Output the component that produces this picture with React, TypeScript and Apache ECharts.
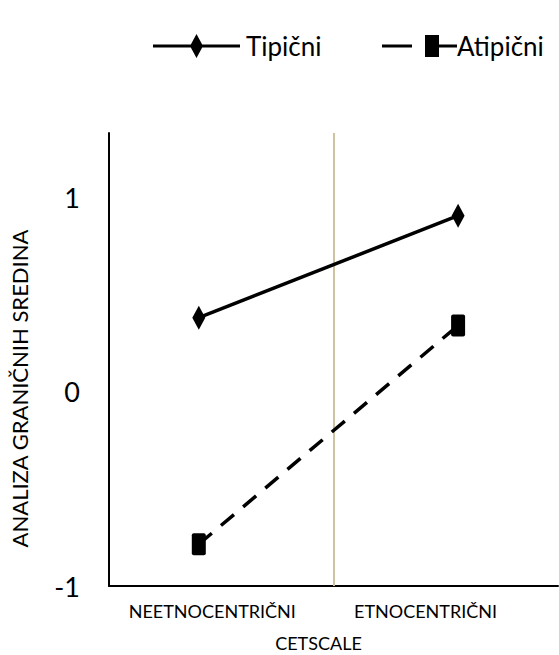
import React, { useEffect, useRef } from "react";
import * as echarts from "echarts";

const categories = ["NEETNOCENTRIČNI", "ETNOCENTRIČNI"];
const pointX = [0.4, 1.555];
const labelX = [0.46, 1.41];
const tipicni = [0.38, 0.905];
const atipicni = [-0.785, 0.34];
const yTicks = [-1, 0, 1];
const seriesNames = ["Tipični", "Atipični"];

const FONT = "Lato";

export default function App() {
  const ref = useRef<HTMLDivElement>(null);
  useEffect(() => {
    if (!ref.current) return;
    const chart = echarts.init(ref.current, null, { renderer: "svg" });
    const pair = (ys: number[]) => ys.map((y, i) => [pointX[i], y]);
    chart.setOption({
      animation: false,
      backgroundColor: "#ffffff",
      textStyle: { fontFamily: FONT, color: "#000" },
      legend: [
        {
          left: 148,
          top: 28,
          itemWidth: 87,
          itemHeight: 24,
          data: [
            {
              name: seriesNames[0],
              icon: "path://M0,10.5H87V13.5H0Z M43.5,0L50,12L43.5,24L37,12Z",
              itemStyle: { color: "#000" },
            },
          ],
          textStyle: { fontFamily: FONT, fontSize: 26, lineHeight: 24, color: "#000", padding: [0, 0, 0, 1] },
        },
        {
          left: 377,
          top: 28,
          itemWidth: 75,
          itemHeight: 24,
          data: [
            {
              name: seriesNames[1],
              icon: "path://M0,10.5H30V13.5H0Z M43,1H57V23H43Z M57,10.5H75V13.5H57Z",
              itemStyle: { color: "#000" },
            },
          ],
          textStyle: { fontFamily: FONT, fontSize: 26, lineHeight: 24, color: "#000", padding: [0, 0, 0, -5] },
        },
      ],
      grid: { left: 109, right: 1, top: 133, bottom: 69, containLabel: false, outerBoundsMode: "none" },
      xAxis: {
        type: "value",
        min: 0,
        max: 2,
        name: "CETSCALE",
        nameLocation: "middle",
        nameGap: 48,
        nameTextStyle: { fontFamily: FONT, fontSize: 18, color: "#000", padding: [0, 30, 0, 0] },
        axisLine: { show: true, onZero: false, lineStyle: { color: "#000", width: 2 } },
        axisTick: { show: false },
        splitLine: { show: false },
        axisLabel: {
          customValues: labelX,
          fontFamily: FONT,
          fontSize: 18,
          color: "#000",
          margin: 16,
          formatter: (v: number) => {
            const i = labelX.findIndex((x) => Math.abs(x - v) < 1e-6);
            return i >= 0 ? categories[i] : "";
          },
        },
      },
      yAxis: {
        type: "value",
        min: -1,
        max: 1.33,
        interval: 1,
        name: "ANALIZA GRANIČNIH SREDINA",
        nameLocation: "middle",
        nameRotate: 90,
        nameGap: 79,
        nameTextStyle: { fontFamily: FONT, fontSize: 22, color: "#000", padding: [0, 58, 0, 0] },
        axisLine: { show: true, lineStyle: { color: "#000", width: 2 } },
        axisTick: { show: false },
        splitLine: { show: false },
        axisLabel: {
          customValues: yTicks,
          fontFamily: FONT,
          fontSize: 27,
          color: "#000",
          margin: 29,
        },
      },
      series: [
        {
          name: seriesNames[0],
          type: "line",
          data: pair(tipicni),
          symbol: "diamond",
          symbolSize: [13, 24],
          itemStyle: { color: "#000", borderWidth: 0 },
          lineStyle: { color: "#000", width: 3.5 },
          z: 3,
          markLine: {
            silent: true,
            symbol: "none",
            label: { show: false },
            lineStyle: { color: "#cdc2a2", width: 2, type: "solid" },
            data: [{ xAxis: 1 }],
            z: 1,
          },
        },
        {
          name: seriesNames[1],
          type: "line",
          data: pair(atipicni),
          symbol: "path://M2,0H12Q14,0 14,2V20Q14,22 12,22H2Q0,22 0,20V2Q0,0 2,0Z",
          symbolSize: [14, 22],
          itemStyle: { color: "#000", borderWidth: 0 },
          lineStyle: { color: "#000", width: 3.5, type: [17, 12] },
          z: 3,
        },
      ],
    });
    return () => chart.dispose();
  }, []);
  return (
    <div
      ref={ref}
      style={{ position: "absolute", left: 0, top: 0, width: 559, height: 655 }}
    />
  );
}
